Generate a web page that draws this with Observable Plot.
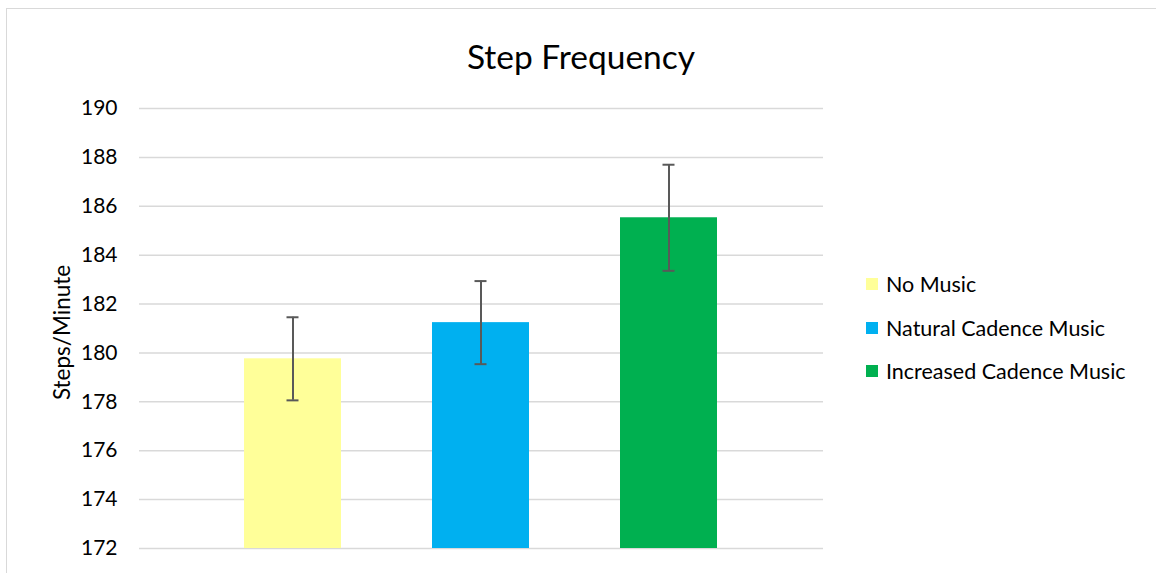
<!DOCTYPE html>
<html>
<head>
<meta charset="utf-8">
<script src="https://cdn.jsdelivr.net/npm/d3@7"></script>
<script src="https://cdn.jsdelivr.net/npm/@observablehq/plot@0.6"></script>
<style>
  html, body { margin: 0; padding: 0; background: #fff; overflow: hidden; }
  #wrap { position: relative; width: 1156px; height: 573px; font-family: Lato, "Open Sans", sans-serif; color: #000; }
  #border { position: absolute; left: 6px; top: 8px; width: 1160px; height: 620px; border: 1.5px solid #d9d9d9; box-sizing: border-box; }
  #title { position: absolute; left: 0; width: 1162px; top: 36px; text-align: center; font-size: 33.5px; line-height: 40px; }
  #chart { position: absolute; left: 0; top: 0; }
  #legend { position: absolute; left: 866px; top: 271px; font-size: 21.5px; }
  .item { position: absolute; white-space: nowrap; display: flex; align-items: center; height: 26px; }
  .sw { width: 12px; height: 12px; margin-right: 8px; }
</style>
</head>
<body>
<div id="wrap">
  <div id="border"></div>
  <div id="title">Step Frequency</div>
  <div id="chart"></div>
  <div id="legend"></div>
</div>
<script>
const categories = ["No Music", "Natural Cadence Music", "Increased Cadence Music"];
const means = [179.76, 181.24, 185.53];
const errors = [1.7, 1.7, 2.17];
const colors = ["#FFFF99", "#00B0F0", "#00B050"];
const yTicks = [172, 174, 176, 178, 180, 182, 184, 186, 188, 190];
const yLabel = "Steps/Minute";

const data = categories.map((c, i) => ({cat: c, mean: means[i], lo: means[i] - errors[i], hi: means[i] + errors[i]}));

const chart = Plot.plot({
  width: 1156,
  height: 573,
  marginLeft: 139,
  marginRight: 333,
  marginTop: 108,
  marginBottom: 25,
  style: {fontFamily: "Lato, 'Open Sans', sans-serif", fontSize: "21px", color: "#000", background: "transparent", overflow: "visible"},
  x: {domain: categories, axis: null, paddingInner: 0.484, paddingOuter: 0.56},
  y: {domain: [172, 190], ticks: yTicks, tickSize: 0, tickPadding: 22, label: null, grid: false},
  color: {domain: categories, range: colors},
  marks: [
    Plot.gridY(yTicks, {stroke: "#d9d9d9", strokeOpacity: 1, strokeWidth: 1.5}),
    Plot.barY(data, {x: "cat", y1: 172, y2: "mean", fill: "cat"}),
    Plot.ruleX(data, {x: "cat", y1: "lo", y2: "hi", stroke: "#595959", strokeWidth: 2}),
    Plot.tickY(data, {x: "cat", y: "lo", stroke: "#595959", strokeWidth: 2, insetLeft: 42.5, insetRight: 42.5}),
    Plot.tickY(data, {x: "cat", y: "hi", stroke: "#595959", strokeWidth: 2, insetLeft: 42.5, insetRight: 42.5}),
    Plot.axisY(yTicks, {tickSize: 0, tickPadding: 22, fontSize: 21, fill: "#000", label: null}),
    Plot.text([yLabel], {frameAnchor: "left", textAnchor: "middle", rotate: -90, dx: -77, dy: 4, fontSize: 22.5, fill: "#000"})
  ]
});
document.getElementById("chart").appendChild(chart);

const legend = document.getElementById("legend");
const rowTops = [0, 43.5, 87];
categories.forEach((c, i) => {
  const item = document.createElement("div");
  item.className = "item";
  item.style.top = rowTops[i] + "px";
  const sw = document.createElement("div");
  sw.className = "sw";
  sw.style.background = colors[i];
  const t = document.createElement("span");
  t.textContent = c;
  item.appendChild(sw);
  item.appendChild(t);
  legend.appendChild(item);
});
</script>
</body>
</html>
